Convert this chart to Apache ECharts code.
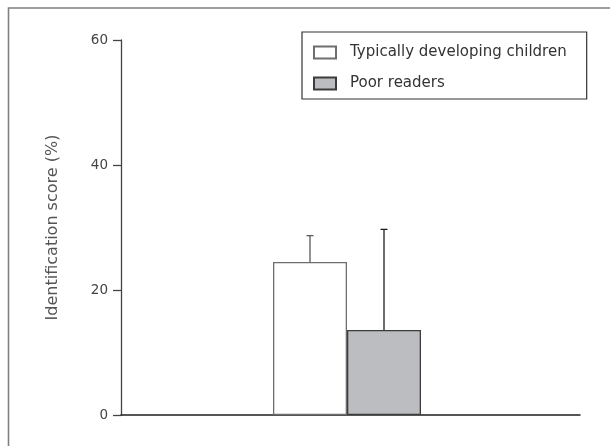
<!DOCTYPE html>
<html>
<head>
<meta charset="utf-8">
<script src="https://cdn.jsdelivr.net/npm/echarts@6/dist/echarts.min.js"></script>
<style>
  html, body { margin: 0; padding: 0; background: #fff; }
  #chart { width: 610px; height: 446px; }
</style>
</head>
<body>
<div id="chart"></div>
<script>
// Identification score by group (mean and SD, %)
const groups = ['Typically developing children', 'Poor readers'];
const means = [24.5, 13.6];
const sds = [4.2, 16.1];
const yTicks = [0, 20, 40, 60];

const FONT = 'DejaVu Sans';
const BAR_W = 74;
const fills = ['#ffffff', '#bcbdc0'];
const borders = ['#6e6e6e', '#3c3c3c'];
const errColors = ['#5a5a5a', '#1e1e1e'];

const chart = echarts.init(document.getElementById('chart'));

const barSeries = groups.map((g, i) => ({
  name: g,
  type: 'bar',
  xAxisIndex: 1,
  yAxisIndex: 1,
  barWidth: BAR_W,
  barGap: '0%',
  data: [means[i]],
  itemStyle: { color: fills[i], borderColor: borders[i], borderWidth: 1.3 },
  emphasis: { disabled: true },
  silent: true
}));

// One-sided (upper) error bars drawn above each bar
const errSeries = {
  type: 'custom',
  xAxisIndex: 1,
  yAxisIndex: 1,
  silent: true,
  z: 5,
  data: groups.map((g, i) => [i, means[i], means[i] + sds[i]]),
  renderItem: function (params, api) {
    const i = api.value(0);
    const base = api.coord([0, api.value(1)]);
    const top = api.coord([0, api.value(2)]);
    const x = base[0] + (i === 0 ? -BAR_W / 2 : BAR_W / 2);
    const stroke = { stroke: errColors[i], lineWidth: 1.3 };
    return {
      type: 'group',
      children: [
        { type: 'line', shape: { x1: x, y1: base[1], x2: x, y2: top[1] }, style: stroke },
        { type: 'line', shape: { x1: x - 3.5, y1: top[1], x2: x + 3.5, y2: top[1] }, style: stroke }
      ]
    };
  }
};

chart.setOption({
  animation: false,
  backgroundColor: '#fff',
  textStyle: { fontFamily: FONT },
  graphic: [
    { type: 'polyline', shape: { points: [[8.5, 446], [8.5, 8], [610, 8]] },
      style: { stroke: '#808080', lineWidth: 1.6, fill: null }, silent: true }
  ],
  legend: {
    data: groups.map(g => ({ name: g, icon: 'rect' })),
    orient: 'vertical',
    left: 302,
    top: 32,
    padding: [13, 20, 8, 11],
    itemGap: 16,
    itemWidth: 22,
    itemHeight: 12,
    borderColor: '#333',
    borderWidth: 1.2,
    selectedMode: false,
    textStyle: { fontFamily: FONT, fontSize: 15, color: '#333', padding: [0, 0, 0, 9] }
  },
  grid: [
    { left: 121, right: 30, top: 40, bottom: 31 },
    { left: 121, right: 37, top: 40, bottom: 31 }
  ],
  xAxis: [
    { type: 'category', gridIndex: 0, data: [''],
      axisLine: { lineStyle: { color: '#1e1e1e', width: 1.5 } },
      axisTick: { show: false }, axisLabel: { show: false } },
    { type: 'category', gridIndex: 1, data: ['group'], show: false }
  ],
  yAxis: [
    { type: 'value', gridIndex: 0, min: yTicks[0], max: yTicks[yTicks.length - 1], interval: 20,
      name: 'Identification score (%)', nameLocation: 'middle', nameGap: 60,
      nameTextStyle: { fontFamily: FONT, fontSize: 16, color: '#555' },
      axisLine: { show: true, lineStyle: { color: '#444', width: 1.3 } },
      axisTick: { show: true, length: 8, lineStyle: { color: '#444', width: 1.3 } },
      axisLabel: { margin: 13, fontFamily: FONT, fontSize: 13.5, color: '#444' },
      splitLine: { show: false } },
    { type: 'value', gridIndex: 1, min: yTicks[0], max: yTicks[yTicks.length - 1], show: false }
  ],
  series: [...barSeries, errSeries]
});
</script>
</body>
</html>
